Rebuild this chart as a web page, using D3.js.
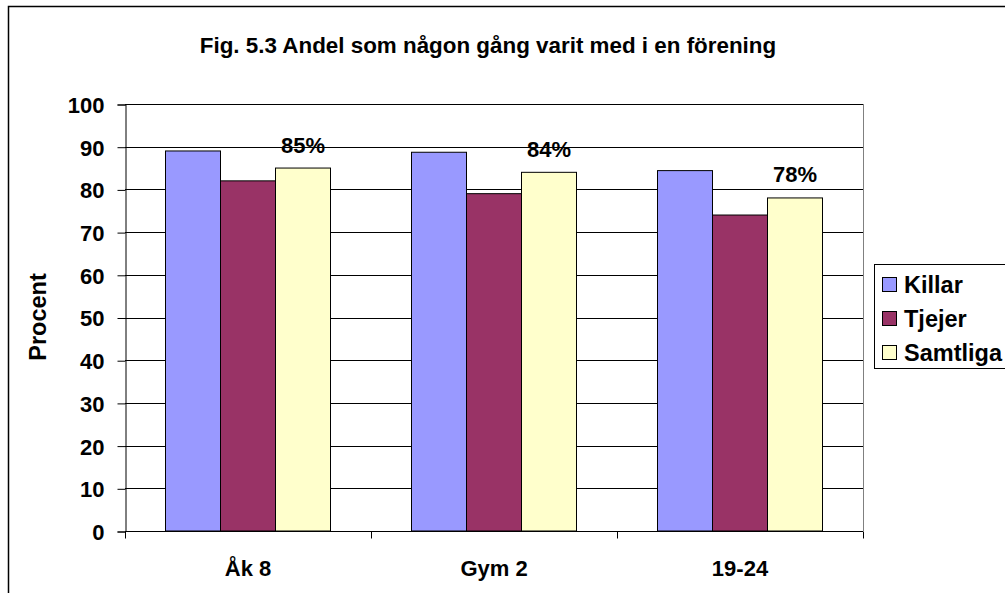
<!DOCTYPE html>
<meta charset="utf-8">
<script src="https://d3js.org/d3.v7.min.js"></script>
<style>
  body { margin: 0; background: #fff; }
  text { font-family: "Liberation Sans", Arial, sans-serif; font-weight: bold; fill: #000; }
</style>
<div id="chart"></div>
<script>

  // data
  var categories = ["Åk 8", "Gym 2", "19-24"];
  var series = ["Killar", "Tjejer", "Samtliga"];
  var killar = [89, 88.7, 84.4];
  var tjejer = [82, 79, 74];
  var samtliga = [85, 84, 78];
  var samtligaLabels = ["85%", "84%", "78%"];
  var yTicks = [0, 10, 20, 30, 40, 50, 60, 70, 80, 90, 100];
  var colors = ["#9999ff", "#993366", "#ffffcc"];

  var values = [killar, tjejer, samtliga];

  var W = 1005, H = 593;
  var plotLeft = 125, plotRight = 863, plotTop = 104, plotBottom = 531;

  var svg = d3.select("#chart").append("svg")
    .attr("width", W)
    .attr("height", H);

  // outer chart border (right and bottom edges fall outside the picture)
  svg.append("rect")
    .attr("x", 8.5).attr("y", 6.5)
    .attr("width", 1100).attr("height", 700)
    .attr("fill", "none")
    .attr("stroke", "#000")
    .attr("stroke-width", 1.5);

  // title
  svg.append("text")
    .attr("x", 488)
    .attr("y", 53)
    .attr("text-anchor", "middle")
    .style("font-size", "22.4px")
    .text("Fig. 5.3 Andel som någon gång varit med i en förening");

  var x0 = d3.scaleBand()
    .domain(categories)
    .range([plotLeft, plotRight])
    .padding(0);

  var x1 = d3.scaleBand()
    .domain(series)
    .range([40.5, x0.bandwidth() - 40.5])
    .padding(0);

  var y = d3.scaleLinear()
    .domain([0, 100])
    .range([plotBottom, plotTop]);

  // gridlines
  svg.append("g")
    .selectAll("line")
    .data(yTicks)
    .enter()
    .append("line")
    .attr("x1", plotLeft).attr("x2", plotRight)
    .attr("y1", function (d) { return Math.round(y(d)) + 0.5; })
    .attr("y2", function (d) { return Math.round(y(d)) + 0.5; })
    .attr("stroke", "#000")
    .attr("stroke-width", 1);

  // plot area right border
  svg.append("line")
    .attr("x1", plotRight + 0.5).attr("x2", plotRight + 0.5)
    .attr("y1", plotTop).attr("y2", plotBottom)
    .attr("stroke", "#808080");

  // bars
  var groups = svg.append("g")
    .selectAll("g")
    .data(categories)
    .enter()
    .append("g")
    .attr("transform", function (d) { return "translate(" + x0(d) + ",0)"; });

  groups.selectAll("rect")
    .data(function (d, i) { return series.map(function (s, j) { return { s: s, v: values[j][i], j: j }; }); })
    .enter()
    .append("rect")
    .attr("x", function (d) { return x1(d.s); })
    .attr("y", function (d) { return y(d.v); })
    .attr("width", x1.bandwidth())
    .attr("height", function (d) { return plotBottom - y(d.v); })
    .attr("fill", function (d) { return colors[d.j]; })
    .attr("stroke", "#000")
    .attr("stroke-width", 1);

  // value labels on Samtliga
  groups.append("text")
    .attr("x", x1("Samtliga") + x1.bandwidth() / 2)
    .attr("y", function (d, i) { return y(samtliga[i]) - 15.5; })
    .attr("text-anchor", "middle")
    .style("font-size", "22px")
    .text(function (d, i) { return samtligaLabels[i]; });

  // y axis
  var yAxis = svg.append("g")
    .attr("transform", "translate(" + (plotLeft + 0.5) + ",0.5)")
    .call(d3.axisLeft(y).tickValues(yTicks).tickSize(8).tickPadding(13).tickFormat(d3.format("d")));
  yAxis.select(".domain").attr("stroke", "#000");
  yAxis.selectAll("text").style("font-size", "22px").attr("dy", "0.36em");

  // x axis
  var xAxis = svg.append("g")
    .attr("transform", "translate(0," + (plotBottom + 0.5) + ")")
    .call(d3.axisBottom(x0).tickSize(0).tickPadding(29));
  xAxis.select(".domain").remove();
  xAxis.selectAll("text").style("font-size", "22px");
  xAxis.selectAll(".tickmark")
    .data(d3.range(categories.length + 1))
    .enter()
    .append("line")
    .attr("x1", function (d) { return Math.round(plotLeft + d * x0.bandwidth()) + 0.5; })
    .attr("x2", function (d) { return Math.round(plotLeft + d * x0.bandwidth()) + 0.5; })
    .attr("y1", 0).attr("y2", 7)
    .attr("stroke", "#000");
  xAxis.append("line")
    .attr("x1", plotLeft).attr("x2", plotRight)
    .attr("stroke", "#000");

  // y axis title
  svg.append("text")
    .attr("transform", "translate(46,317) rotate(-90)")
    .attr("text-anchor", "middle")
    .style("font-size", "23.5px")
    .text("Procent");

  // legend
  var legend = svg.append("g");
  legend.append("rect")
    .attr("x", 874.5).attr("y", 264.5)
    .attr("width", 200).attr("height", 104)
    .attr("fill", "#fff")
    .attr("stroke", "#000");

  var rows = legend.selectAll("g.row")
    .data(series)
    .enter()
    .append("g")
    .attr("transform", function (d, i) { return "translate(882," + (285 + i * 34) + ")"; });
  rows.append("rect")
    .attr("x", 0.5).attr("y", -7.5)
    .attr("width", 14).attr("height", 14)
    .attr("fill", function (d, i) { return colors[i]; })
    .attr("stroke", "#000");
  rows.append("text")
    .attr("x", 22)
    .attr("dy", "0.36em")
    .style("font-size", "23.5px")
    .text(function (d) { return d; });

</script>
